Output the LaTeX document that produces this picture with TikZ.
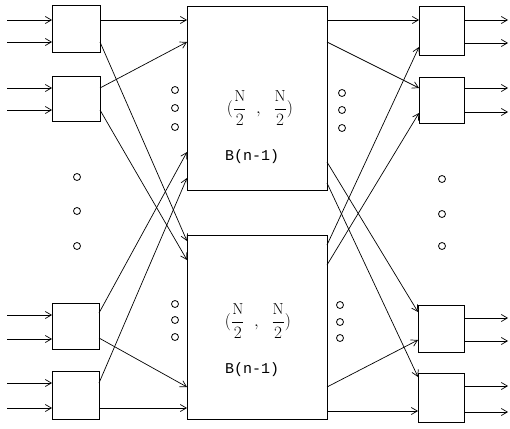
\documentclass[tikz,border=0pt]{standalone}
\usepackage{fontspec}
\newfontfamily\monofont{Liberation Mono}
\usetikzlibrary{arrows.meta}
\tikzset{
  sw/.style={draw, rectangle, inner sep=0pt, outer sep=0pt, line width=1pt},
  wire/.style={line width=0.7pt, -{Straight Barb[length=6pt,width=7pt]}},
  dot/.style={draw, circle, inner sep=0pt, minimum size=7pt, line width=0.8pt},
  lbl/.style={font=\monofont\fontsize{15}{17}\selectfont},
  frc/.style={font=\fontsize{16}{18}\selectfont}
}
\begin{document}
\begin{tikzpicture}[x=1pt, y=-1pt]
\useasboundingbox (0,0) rectangle (510,428);
% switches
\node[sw, minimum width=48pt, minimum height=46pt] (L1) at (76,29) {};
\node[sw, minimum width=48pt, minimum height=45pt] (L2) at (76,98.5) {};
\node[sw, minimum width=47pt, minimum height=46pt] (L3) at (75.5,326) {};
\node[sw, minimum width=47pt, minimum height=48pt] (L4) at (75.5,395) {};
\node[sw, minimum width=140pt, minimum height=183pt] (T) at (257,98.5) {};
\node[sw, minimum width=140pt, minimum height=184pt] (B) at (257,327) {};
\node[sw, minimum width=45pt, minimum height=48pt] (R1) at (441.5,31) {};
\node[sw, minimum width=45pt, minimum height=46pt] (R2) at (441.5,100) {};
\node[sw, minimum width=46pt, minimum height=47pt] (R3) at (441,328.5) {};
\node[sw, minimum width=46pt, minimum height=49pt] (R4) at (441,397.5) {};
% labels
\node[frc] (tf) at (260,108) {$(\displaystyle\frac{\mathrm{N}}{2}\ \ ,\ \ \frac{\mathrm{N}}{2})$};
\node[lbl] (tb) at (252,157) {B(n-1)};
\node[frc] (bf) at (258,321) {$(\displaystyle\frac{\mathrm{N}}{2}\ \ ,\ \ \frac{\mathrm{N}}{2})$};
\node[lbl] (bb) at (252,370) {B(n-1)};
% dots
\foreach \n/\x/\y in {a1/77/177,a2/77/211,a3/77/246,
  b1/175/90,b2/175/108,b3/175/127,
  c1/342/93,c2/342/110,c3/342/128,
  d1/442/179,d2/442/214,d3/442/246,
  e1/175/304,e2/175/320,e3/175/337,
  f1/340/305,f2/340/322,f3/340/338}
  \node[dot] (\n) at (\x,\y) {};
% coordinates: external inputs/outputs
\foreach \n/\y in {1/20,2/42,3/88,4/110,5/315,6/339,7/383,8/408}
  \coordinate (in\n) at (7,\y);
\foreach \n/\y in {1/20,2/43,3/88,4/112,5/318,6/341,7/386,8/412}
  \coordinate (out\n) at (508,\y);
% left switch ports
\coordinate (L1i1) at (52,20); \coordinate (L1i2) at (52,42);
\coordinate (L2i1) at (52,88); \coordinate (L2i2) at (52,110);
\coordinate (L3i1) at (52,315); \coordinate (L3i2) at (52,339);
\coordinate (L4i1) at (52,383); \coordinate (L4i2) at (52,408);
\coordinate (L1o1) at (100,20); \coordinate (L1o2) at (100,42);
\coordinate (L2o1) at (100,88); \coordinate (L2o2) at (100,110);
\coordinate (L3o1) at (99,313); \coordinate (L3o2) at (99,338);
\coordinate (L4o1) at (99,383); \coordinate (L4o2) at (99,408);
% big box ports
\coordinate (Ti1) at (187,20); \coordinate (Ti2) at (187,42);
\coordinate (Ti3) at (187,152); \coordinate (Ti4) at (187,178);
\coordinate (To1) at (327,20); \coordinate (To2) at (327,42);
\coordinate (To3) at (327,162); \coordinate (To4) at (327,183);
\coordinate (Bi1) at (187,241); \coordinate (Bi2) at (187,260);
\coordinate (Bi3) at (187,387); \coordinate (Bi4) at (187,408);
\coordinate (Bo1) at (327,245); \coordinate (Bo2) at (327,265);
\coordinate (Bo3) at (327,387); \coordinate (Bo4) at (327,411);
% right switch ports
\coordinate (R1i1) at (419,20); \coordinate (R1i2) at (419,47);
\coordinate (R2i1) at (419,88); \coordinate (R2i2) at (419,113);
\coordinate (R3i1) at (418,312); \coordinate (R3i2) at (418,340);
\coordinate (R4i1) at (418,377); \coordinate (R4i2) at (418,411);
\coordinate (R1o1) at (464,20); \coordinate (R1o2) at (464,43);
\coordinate (R2o1) at (464,88); \coordinate (R2o2) at (464,112);
\coordinate (R3o1) at (464,318); \coordinate (R3o2) at (464,341);
\coordinate (R4o1) at (464,386); \coordinate (R4o2) at (464,412);
% external inputs
\draw[wire] (in1) -- (L1i1);
\draw[wire] (in2) -- (L1i2);
\draw[wire] (in3) -- (L2i1);
\draw[wire] (in4) -- (L2i2);
\draw[wire] (in5) -- (L3i1);
\draw[wire] (in6) -- (L3i2);
\draw[wire] (in7) -- (L4i1);
\draw[wire] (in8) -- (L4i2);
% left to middle
\draw[wire] (L1o1) -- (Ti1);
\draw[wire] (L1o2) -- (Bi1);
\draw[wire] (L2o1) -- (Ti2);
\draw[wire] (L2o2) -- (Bi2);
\draw[wire] (L3o1) -- (Ti3);
\draw[wire] (L3o2) -- (Bi3);
\draw[wire] (L4o1) -- (Ti4);
\draw[wire] (L4o2) -- (Bi4);
% middle to right
\draw[wire] (To1) -- (R1i1);
\draw[wire] (To2) -- (R2i1);
\draw[wire] (To3) -- (R3i1);
\draw[wire] (To4) -- (R4i1);
\draw[wire] (Bo1) -- (R1i2);
\draw[wire] (Bo2) -- (R2i2);
\draw[wire] (Bo3) -- (R3i2);
\draw[wire] (Bo4) -- (R4i2);
% external outputs
\draw[wire] (R1o1) -- (out1);
\draw[wire] (R1o2) -- (out2);
\draw[wire] (R2o1) -- (out3);
\draw[wire] (R2o2) -- (out4);
\draw[wire] (R3o1) -- (out5);
\draw[wire] (R3o2) -- (out6);
\draw[wire] (R4o1) -- (out7);
\draw[wire] (R4o2) -- (out8);
\end{tikzpicture}
\end{document}
